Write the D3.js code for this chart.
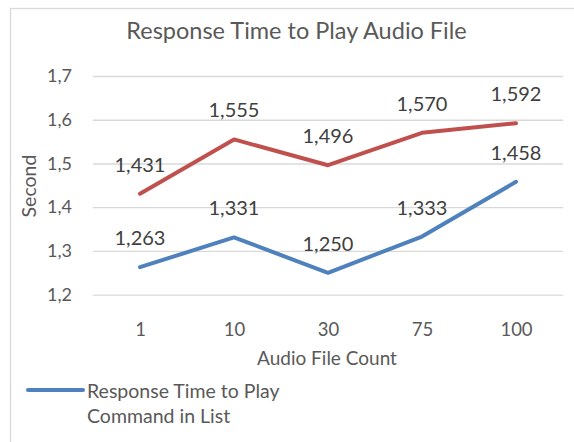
<!DOCTYPE html>
<html><head><meta charset="utf-8">
<script src="https://cdn.jsdelivr.net/npm/d3@7"></script>
<style>body{margin:0;background:#fff}svg{display:block}text{font-family:Lato,"Noto Sans",sans-serif}</style>
</head><body>
<svg id="c" width="574" height="442"></svg>
<script>
const categories = ["1","10","30","75","100"];
const seriesBlue = [1.263,1.331,1.250,1.333,1.458];
const seriesRed = [1.431,1.555,1.496,1.570,1.592];
const yTicks = [1.2,1.3,1.4,1.5,1.6,1.7];
const title = "Response Time to Play Audio File";
const xTitle = "Audio File Count";
const yTitle = "Second";
const legendLines = ["Response Time to Play","Command in List"];

const svg = d3.select("#c");
const fmt = v => v.toFixed(3).replace(".", ",");
const fmtTick = v => v.toFixed(1).replace(".", ",");

svg.append("rect").attr("x",10.5).attr("y",8.5).attr("width",700).attr("height",600)
  .attr("fill","#fff").attr("stroke","#d9d9d9").attr("stroke-width",1.3);

const x = d3.scalePoint().domain(categories).range([93,563]).padding(0.5);
const y = d3.scaleLinear().domain([1.2,1.7]).range([294.7,76]);

svg.append("text").attr("x",296.5).attr("y",30).attr("text-anchor","middle")
  .attr("dominant-baseline","central").attr("fill","#595959").attr("font-size",23.5).text(title);

const yAxis = d3.axisLeft(y).tickValues(yTicks).tickSize(-470).tickFormat(fmtTick).tickPadding(21);
const gy = svg.append("g").attr("transform","translate(93,0)").call(yAxis);
gy.select(".domain").remove();
gy.selectAll(".tick line").attr("stroke","#d9d9d9").attr("stroke-width",1.3);
gy.selectAll(".tick text").attr("fill","#595959").attr("font-size",18).attr("font-family","Lato");

const xAxis = d3.axisBottom(x).tickSize(0).tickPadding(28);
const gx = svg.append("g").attr("transform","translate(0,294.7)").call(xAxis);
gx.select(".domain").remove();
gx.selectAll(".tick text").attr("fill","#595959").attr("font-size",18.5).attr("font-family","Lato");

svg.append("text").attr("x",327).attr("y",357).attr("text-anchor","middle")
  .attr("dominant-baseline","central").attr("fill","#595959").attr("font-size",19).text(xTitle);
svg.append("text").attr("transform","translate(28,186) rotate(-90)").attr("text-anchor","middle")
  .attr("dominant-baseline","central").attr("fill","#595959").attr("font-size",19.5).text(yTitle);

const line = d3.line().x((d,i)=>x(categories[i])).y(d=>y(d));
[[seriesRed,"#c0504d"],[seriesBlue,"#4f81bd"]].forEach(([s,c])=>{
  svg.append("path").datum(s).attr("d",line).attr("fill","none").attr("stroke",c)
    .attr("stroke-width",4).attr("stroke-linecap","round").attr("stroke-linejoin","round");
});
[seriesRed,seriesBlue].forEach(s=>{
  svg.append("g").selectAll("text").data(s).join("text")
    .attr("x",(d,i)=>x(categories[i])).attr("y",d=>y(d)-30)
    .attr("text-anchor","middle").attr("dominant-baseline","central")
    .attr("fill","#404040").attr("font-size",20).text(fmt);
});

svg.append("line").attr("x1",28).attr("x2",83).attr("y1",390).attr("y2",390)
  .attr("stroke","#4f81bd").attr("stroke-width",4).attr("stroke-linecap","round");
svg.append("g").selectAll("text").data(legendLines).join("text")
  .attr("x",87).attr("y",(d,i)=>390+i*25).attr("dominant-baseline","central")
  .attr("fill","#595959").attr("font-size",19.5).text(d=>d);
</script>
</body></html>
